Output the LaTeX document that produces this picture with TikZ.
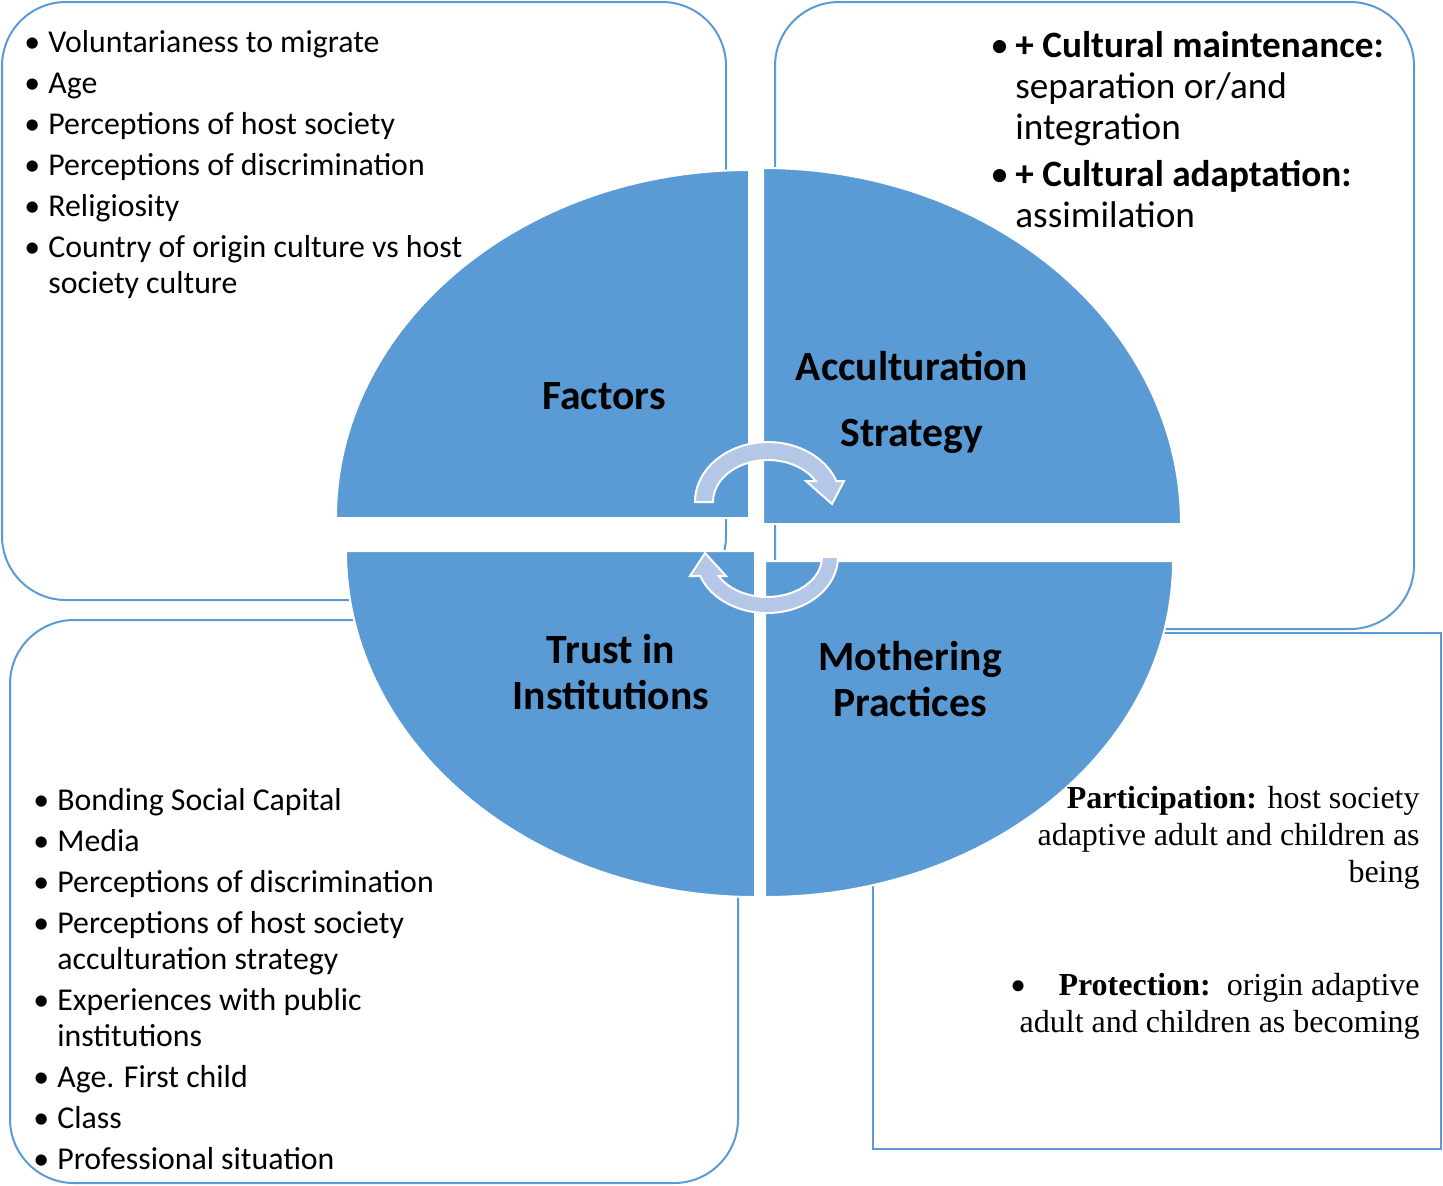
\documentclass[tikz,border=0pt]{standalone}
\usepackage{fontspec}
\setmainfont{Carlito}
\newfontfamily\timesfont{Liberation Serif}
\definecolor{quadblue}{HTML}{5B9BD5}
\definecolor{arrowblue}{HTML}{B4C7E7}
\tikzset{
  infobox/.style={draw=quadblue, line width=1pt},
  quadrant/.style={fill=quadblue, draw=white, line width=1pt},
  cyclearrow/.style={fill=arrowblue, draw=white, line width=1pt},
  quadlabel/.style={font=\fontsize{20.8}{23}\selectfont\bfseries, inner sep=0pt, anchor=base},
  listtext/.style={inner sep=0pt, anchor=base west},
}
\newcommand{\bul}[1][12pt]{\makebox[#1][l]{•}}
\begin{document}
\begin{tikzpicture}[x=0.5pt,y=-0.5pt]
    \useasboundingbox (0,0) rectangle (1443,1185);
    % Riquadri dei testi
    \draw[infobox, rounded corners=32pt] (2,2) rectangle (726,600);
    \draw[infobox, rounded corners=32pt] (775,2) rectangle (1414,629);
    \draw[infobox, rounded corners=32pt] (10,620) rectangle (738,1183);
    \draw[infobox] (873,633) rectangle (1441,1149);

    % Quadranti dell'ellisse
    \draw[quadrant] (749,518) -- (336,518) arc[start angle=180, end angle=270, x radius=413, y radius=348] -- cycle;
    \draw[quadrant] (763,524) -- (763,168) arc[start angle=270, end angle=360, x radius=418, y radius=356] -- cycle;
    \draw[quadrant] (755,551) -- (346,551) arc[start angle=180, end angle=90, x radius=409, y radius=346] -- cycle;
    \draw[quadrant] (765,561) -- (1173,561) arc[start angle=0, end angle=90, x radius=408, y radius=336] -- cycle;

    % Frecce circolari al centro
    \draw[cyclearrow] (695,502) arc[start angle=180, end angle=339.5, x radius=73, y radius=60]
        -- (844,481) -- (832,504) -- (806,481) -- (815.6,481)
        arc[start angle=330, end angle=180, x radius=55, y radius=42] -- cycle;
    \draw[cyclearrow] (838,557) arc[start angle=0, end angle=160.2, x radius=71, y radius=56]
        -- (690,576) -- (705,553) -- (726,576) -- (718.6,576)
        arc[start angle=151.6, end angle=0, x radius=55, y radius=40] -- cycle;

    % Etichette dei quadranti
    \node[quadlabel] (factors) at (604,409) {Factors};
    \node[quadlabel] (strategy) at (912,380) {\begin{tabular}[t]{@{}c@{}}Acculturation\\[10pt]Strategy\end{tabular}};
    \node[quadlabel] (trust) at (611,663) {\begin{tabular}[t]{@{}c@{}}Trust in\\Institutions\end{tabular}};
    \node[quadlabel] (mothering) at (910,670) {\begin{tabular}[t]{@{}c@{}}Mothering\\Practices\end{tabular}};

    % Elenchi
    \node[listtext, font=\fontsize{15.9}{18}\selectfont] (factorlist) at (24,52) {%
      \begin{tabular}[t]{@{}l@{}l@{}}
        \bul & Voluntarianess to migrate\\[2.5pt]
        \bul & Age\\[2.5pt]
        \bul & Perceptions of host society\\[2.5pt]
        \bul & Perceptions of discrimination\\[2.5pt]
        \bul & Religiosity\\[2.5pt]
        \bul & Country of origin culture vs host\\
             & society culture
      \end{tabular}};
    \node[listtext, font=\fontsize{18.6}{20.5}\selectfont] (strategylist) at (990,57) {%
      \begin{tabular}[t]{@{}l@{}l@{}}
        \bul[12.5pt] & \textbf{+ Cultural maintenance:}\\
                     & separation or/and\\
                     & integration\\[3pt]
        \bul[12.5pt] & \textbf{+ Cultural adaptation:}\\
                     & assimilation
      \end{tabular}};
    \node[listtext, font=\fontsize{15.9}{18}\selectfont] (trustlist) at (33,810) {%
      \begin{tabular}[t]{@{}l@{}l@{}}
        \bul & Bonding Social Capital\\[2.5pt]
        \bul & Media\\[2.5pt]
        \bul & Perceptions of discrimination\\[2.5pt]
        \bul & Perceptions of host society\\
             & acculturation strategy\\[2.5pt]
        \bul & Experiences with public\\
             & institutions\\[2.5pt]
        \bul & Age. First child\\[2.5pt]
        \bul & Class\\[2.5pt]
        \bul & Professional situation
      \end{tabular}};
    \node[inner sep=0pt, anchor=base east, font=\timesfont\fontsize{16}{18.5}\selectfont] (participation) at (1420,808) {%
      \begin{tabular}[t]{@{}r@{}}
        \textbf{Participation:} host society\\
        adaptive adult and children as\\
        being
      \end{tabular}};
    \node[inner sep=0pt, anchor=base east, font=\timesfont\fontsize{16}{18.5}\selectfont] (protection) at (1420,995) {%
      \begin{tabular}[t]{@{}r@{}}
        \raisebox{-3pt}{\fontsize{23}{18.5}\selectfont •}\hspace{16pt}\textbf{Protection:}\ \ origin adaptive\\
        adult and children as becoming
      \end{tabular}};
\end{tikzpicture}
\end{document}
